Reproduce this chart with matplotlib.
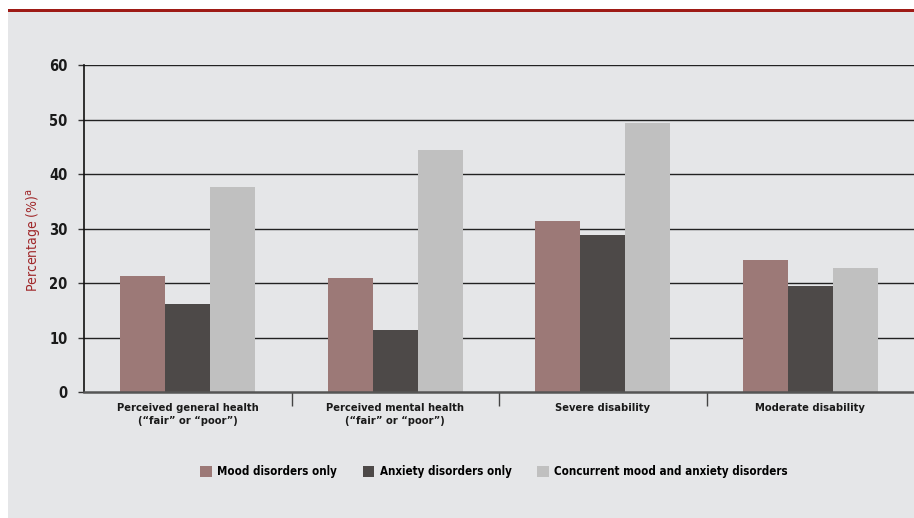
import matplotlib
matplotlib.use("Agg")
import matplotlib.pyplot as plt
from matplotlib.patches import Rectangle
from matplotlib.font_manager import FontProperties
import numpy as np

categories = ["Perceived general health\n(\u201cfair\u201d or \u201cpoor\u201d)",
              "Perceived mental health\n(\u201cfair\u201d or \u201cpoor\u201d)",
              "Severe disability",
              "Moderate disability"]
series_names = ["Mood disorders only", "Anxiety disorders only",
                "Concurrent mood and anxiety disorders"]
mood = [21.4, 20.9, 31.4, 24.3]
anxiety = [16.2, 11.5, 28.9, 19.4]
concurrent = [37.6, 44.5, 49.3, 22.8]
yticks = [0, 10, 20, 30, 40, 50, 60]

colors = ["#9C7977", "#4D4948", "#C0C0C0"]
panel = "#E5E6E8"
red = "#9E1B16"

plt.rcParams['font.family'] = ['DejaVu Sans']

def fp(size, weight='bold'):
    return FontProperties(family='DejaVu Sans', stretch='condensed',
                          weight=weight, size=size)

fig = plt.figure(figsize=(9.14, 5.18), dpi=100)
fig.patch.set_facecolor("white")
fig.add_artist(Rectangle((8/914, 0), 1 - 8/914, 1 - 12/518,
                         transform=fig.transFigure, facecolor=panel,
                         edgecolor="none", zorder=0))
fig.add_artist(Rectangle((8/914, 1 - 12/518), 1 - 8/914, 3/518,
                         transform=fig.transFigure, facecolor=red,
                         edgecolor="none", zorder=1))

ax = fig.add_axes([84/914, 1 - 392.3/518, 1 - 84/914, (392.3 - 65)/518])
ax.set_facecolor("none")

x = np.arange(len(categories))
w = 0.217
for i, (vals, c) in enumerate(zip([mood, anxiety, concurrent], colors)):
    ax.bar(x + (i - 1) * w, vals, width=w, color=c, label=series_names[i],
           zorder=3, linewidth=0)

ax.set_xlim(-0.5, len(categories) - 0.5)
ax.set_ylim(0, 60)
for t in yticks[1:]:
    ax.axhline(t, color="#222222", lw=1.0, zorder=1)

for s in ["top", "right"]:
    ax.spines[s].set_visible(False)
ax.spines["left"].set_color("#111111")
ax.spines["left"].set_linewidth(1.2)
ax.spines["bottom"].set_color("#555555")
ax.spines["bottom"].set_linewidth(1.8)
ax.spines["bottom"].set_zorder(4)

ax.tick_params(axis='y', length=4, width=1, color="#333333", pad=8)
ax.set_xticks([0.5, 1.5, 2.5])
ax.set_xticks(x, minor=True)
ax.tick_params(axis='x', which='major', length=10, width=1, color="#444444",
               labelbottom=False)
ax.tick_params(axis='x', which='minor', length=0, pad=8)

ax.set_yticks(yticks)
ax.set_yticklabels([str(t) for t in yticks], color="#1a1a1a",
                   fontproperties=fp(10.5, 'bold'))
ax.set_xticklabels(categories, minor=True, color="#1a1a1a", linespacing=1.3,
                   fontproperties=fp(8.0, 'bold'))

fig.text(35/914, 1 - 240/518, "Percentage (%)$^{\\mathrm{a}}$", rotation=90,
         ha='center', va='center', color="#A0282A",
         fontproperties=fp(10, 'normal'))

leg = fig.legend(loc='center', bbox_to_anchor=(494/914, 1 - 472/518),
                 ncol=3, frameon=False, handlelength=1.0,
                 handleheight=1.1, columnspacing=2.2, handletextpad=0.5,
                 prop=fp(8.3, 'bold'))

fig.savefig("out.png", dpi=100, facecolor=fig.get_facecolor())
